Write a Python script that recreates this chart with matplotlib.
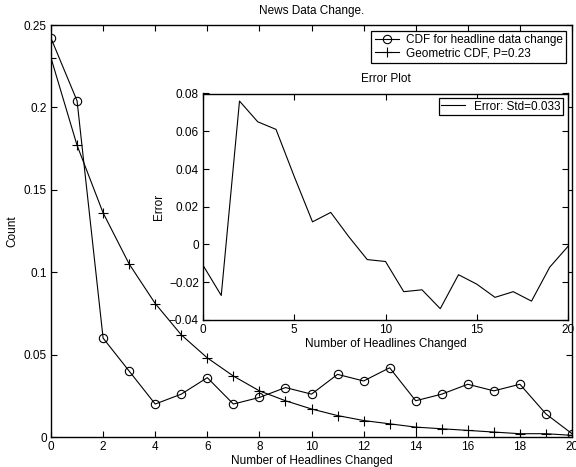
import matplotlib
matplotlib.use("Agg")
import matplotlib.pyplot as plt

plt.rcParams['font.family'] = ['Liberation Sans', 'DejaVu Sans']
plt.rcParams['font.size'] = 8.5

headlines = list(range(21))
cdf_headline = [0.242, 0.204, 0.060, 0.040, 0.020, 0.026, 0.036, 0.020, 0.024, 0.030,
                0.026, 0.038, 0.034, 0.042, 0.022, 0.026, 0.032, 0.028, 0.032, 0.014, 0.002]
geometric_cdf = [0.230, 0.177, 0.136, 0.105, 0.081, 0.062, 0.048, 0.037, 0.028, 0.022,
                 0.017, 0.013, 0.010, 0.008, 0.006, 0.005, 0.004, 0.003, 0.002, 0.002, 0.001]
error_vals = [-0.011, -0.027, 0.076, 0.065, 0.061, 0.036, 0.012, 0.017, 0.004, -0.008,
              -0.009, -0.025, -0.024, -0.034, -0.016, -0.021, -0.028, -0.025, -0.030, -0.012, -0.001]

main_xticks = [0, 2, 4, 6, 8, 10, 12, 14, 16, 18, 20]
main_yticks = [0, 0.05, 0.1, 0.15, 0.2, 0.25]
main_ylabels = ['0', '0.05', '0.1', '0.15', '0.2', '0.25']
inset_xticks = [0, 5, 10, 15, 20]
inset_yticks = [-0.04, -0.02, 0, 0.02, 0.04, 0.06, 0.08]
inset_ylabels = ['\u22120.04', '\u22120.02', '0', '0.02', '0.04', '0.06', '0.08']

fs = 8.5
fig = plt.figure(figsize=(5.76, 4.67), dpi=100)
ax = fig.add_axes([51/576, 1 - 437/467, (572 - 51)/576, (437 - 25)/467])

ax.plot(headlines, cdf_headline, color='black', lw=0.8, marker='o', ms=6,
        mfc='none', mec='black', mew=0.8, label='CDF for headline data change')
ax.plot(headlines, geometric_cdf, color='black', lw=0.8, marker='+', ms=6.5,
        mec='black', mew=0.8, label='Geometric CDF, P=0.23')
ax.set_xlim(0, 20)
ax.set_ylim(0, 0.25)
ax.set_xticks(main_xticks)
ax.set_yticks(main_yticks)
ax.set_yticklabels(main_ylabels)
ax.tick_params(direction='in', top=True, right=True, length=4, width=0.8, pad=3, labelsize=fs)
for s in ax.spines.values():
    s.set_linewidth(1.0)
ax.set_title('News Data Change.', fontsize=fs, pad=8)
ax.set_xlabel('Number of Headlines Changed', fontsize=fs, labelpad=1)
ax.set_ylabel('Count', fontsize=fs, labelpad=4)
leg = ax.legend(loc='upper right', fancybox=False, edgecolor='black', framealpha=1,
                fontsize=fs, handlelength=2.0, borderpad=0.3, labelspacing=0.1,
                handletextpad=0.6, borderaxespad=0.5)
leg.get_frame().set_linewidth(0.9)

ins = fig.add_axes([203/576, 1 - 320/467, (568 - 203)/576, (320 - 93.5)/467])
ins.plot(headlines, error_vals, color='black', lw=0.8, label='Error: Std=0.033')
ins.set_xlim(0, 20)
ins.set_ylim(-0.04, 0.08)
ins.set_xticks(inset_xticks)
ins.set_yticks(inset_yticks)
ins.set_yticklabels(inset_ylabels)
ins.tick_params(direction='in', top=True, right=True, length=4, width=0.8, pad=3, labelsize=fs)
for s in ins.spines.values():
    s.set_linewidth(1.0)
ins.set_title('Error Plot', fontsize=fs, pad=8)
ins.set_xlabel('Number of Headlines Changed', fontsize=fs, labelpad=1)
ins.set_ylabel('Error', fontsize=fs, labelpad=3)
leg2 = ins.legend(loc='upper right', fancybox=False, edgecolor='black', framealpha=1,
                  fontsize=fs, handlelength=2.0, borderpad=0.2, handletextpad=0.8,
                  borderaxespad=0.4)
leg2.get_frame().set_linewidth(0.9)

fig.savefig('out.png', dpi=100)
